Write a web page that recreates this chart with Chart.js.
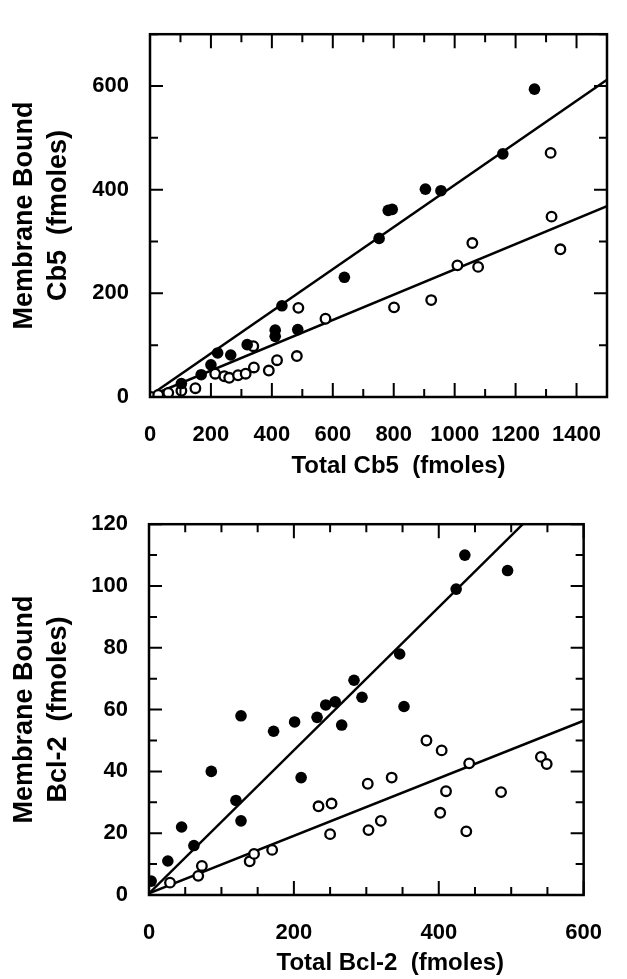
<!DOCTYPE html>
<html>
<head>
<meta charset="utf-8">
<script src="https://cdn.jsdelivr.net/npm/chart.js@4.4.1/dist/chart.umd.min.js"></script>
<style>
  html, body { margin: 0; padding: 0; background: #fff; }
  #wrap { position: relative; width: 627px; height: 979px; }
  canvas { position: absolute; left: 0; }
</style>
</head>
<body>
<div id="wrap">
  <canvas id="chartCb5" width="627" height="490" style="top:0"></canvas>
  <canvas id="chartBcl2" width="627" height="489" style="top:490px"></canvas>
</div>
<script>
// Cb5 panel (fmoles)
const cb5FilledX = [103, 168, 200, 222, 265, 319, 411, 411, 433, 485, 638, 752, 782, 795, 904, 955, 1158, 1262];
const cb5FilledY = [26, 43, 62, 85, 81, 101, 129, 117, 176, 130, 231, 306, 360, 362, 401, 398, 469, 594];
const cb5OpenX = [3, 27, 60, 103, 149, 214, 244, 260, 289, 314, 341, 339, 390, 417, 482, 487, 576, 801, 923, 1009, 1058, 1077, 1315, 1318, 1347];
const cb5OpenY = [0, 4, 8, 12, 17, 45, 40, 37, 42, 45, 57, 98, 51, 71, 79, 172, 151, 173, 187, 254, 297, 251, 471, 348, 285];
const cb5FilledFitX = [0, 1500];
const cb5FilledFitY = [3, 612];
const cb5OpenFitX = [0, 1500];
const cb5OpenFitY = [2, 368];
const cb5XTicks = [0, 200, 400, 600, 800, 1000, 1200, 1400];
const cb5YTicks = [0, 200, 400, 600];

// Bcl-2 panel (fmoles)
const bclFilledX = [3, 26, 45, 62, 86, 120, 127, 127, 172, 201, 210, 232, 244, 257, 266, 283, 294, 346, 352, 424, 436, 495];
const bclFilledY = [4.5, 11, 22, 16, 40, 30.6, 24, 58, 53, 56, 38, 57.5, 61.5, 62.5, 55, 69.5, 64, 78, 61, 99, 110, 105];
const bclOpenX = [29, 68, 73, 139, 145, 170, 234, 250, 252, 302, 303, 320, 335, 383, 402, 404, 410, 438, 442, 486, 541, 549];
const bclOpenY = [4, 6.2, 9.4, 10.9, 13.3, 14.6, 28.7, 19.7, 29.6, 36, 21, 24, 38, 50, 26.6, 46.8, 33.6, 20.6, 42.6, 33.3, 44.7, 42.4];
const bclFilledFitX = [0, 516];
const bclFilledFitY = [0.5, 120];
const bclOpenFitX = [0, 600];
const bclOpenFitY = [0.5, 56.4];
const bclXTicks = [0, 200, 400, 600];
const bclYTicks = [0, 20, 40, 60, 80, 100, 120];

const ink = '#000';
const fontFamily = '"Liberation Sans", Arial, sans-serif';

function pts(xs, ys) {
  return xs.map((x, i) => ({ x: x, y: ys[i] }));
}

// box round the plot, inward ticks on all four sides, x title a bit right of centre
const framePlugin = {
  id: 'frame',
  afterDatasetsDraw(chart, args, o) {
    const { ctx, chartArea: a } = chart;
    const x = chart.scales.x, y = chart.scales.y;
    ctx.save();
    ctx.strokeStyle = ink;
    ctx.lineWidth = 2.5;
    ctx.strokeRect(a.left, a.top, a.right - a.left, a.bottom - a.top);
    ctx.lineWidth = 2;
    ctx.beginPath();
    for (let v = x.min; v <= x.max + 1e-9; v += o.xStep) {
      const p = x.getPixelForValue(v);
      const len = (v % o.xMajor === 0) ? 14 : 8;
      ctx.moveTo(p, a.bottom); ctx.lineTo(p, a.bottom - len);
      ctx.moveTo(p, a.top); ctx.lineTo(p, a.top + len);
    }
    for (let v = y.min; v <= y.max + 1e-9; v += o.yStep) {
      const p = y.getPixelForValue(v);
      const len = (v % o.yMajor === 0) ? 13 : 8;
      ctx.moveTo(a.left, p); ctx.lineTo(a.left + len, p);
      ctx.moveTo(a.right, p); ctx.lineTo(a.right - len, p);
    }
    ctx.stroke();

    ctx.fillStyle = ink;
    ctx.font = 'bold 24px ' + fontFamily;
    ctx.textAlign = 'center';
    ctx.textBaseline = 'middle';
    ctx.fillText(o.xTitle, (a.left + a.right) / 2 + o.xTitleShift, a.bottom + o.xTitleDrop);
    ctx.restore();
  }
};

function makeChart(id, cfg) {
  return new Chart(document.getElementById(id), {
    type: 'scatter',
    data: {
      datasets: [
        { data: pts(cfg.filledX, cfg.filledY), pointRadius: 5.8, pointBackgroundColor: ink, pointBorderColor: ink, pointBorderWidth: 0 },
        { data: pts(cfg.openX, cfg.openY), pointRadius: 4.8, pointBackgroundColor: '#fff', pointBorderColor: ink, pointBorderWidth: 2.3 },
        { type: 'line', data: pts(cfg.fitFilledX, cfg.fitFilledY), borderColor: ink, borderWidth: 2.5, pointRadius: 0 },
        { type: 'line', data: pts(cfg.fitOpenX, cfg.fitOpenY), borderColor: ink, borderWidth: 2.5, pointRadius: 0 }
      ]
    },
    options: {
      responsive: false,
      animation: false,
      layout: { padding: cfg.padding },
      plugins: {
        legend: { display: false },
        tooltip: { enabled: false },
        frame: cfg.frame
      },
      scales: {
        x: {
          type: 'linear', min: 0, max: cfg.xMax,
          grid: { display: false, drawTicks: false },
          border: { display: false },
          afterBuildTicks: s => { s.ticks = cfg.xTicks.map(v => ({ value: v })); },
          afterFit: s => { s.height = cfg.xHeight; },
          ticks: { autoSkip: false, maxRotation: 0, padding: 25, color: ink, callback: v => String(v), font: { family: fontFamily, size: 22, weight: 'bold' } },
          title: { display: false }
        },
        y: {
          type: 'linear', min: 0, max: cfg.yMax,
          grid: { display: false, drawTicks: false },
          border: { display: false },
          afterBuildTicks: s => { s.ticks = cfg.yTicks.map(v => ({ value: v })); },
          afterFit: s => { s.width = cfg.yWidth; },
          ticks: { autoSkip: false, padding: 21, color: ink, callback: v => String(v), font: { family: fontFamily, size: 22, weight: 'bold' } },
          title: { display: true, text: cfg.yTitle, color: ink, padding: { top: 7, bottom: 0 }, font: { family: fontFamily, size: 27, weight: 'bold', lineHeight: 1.27 } }
        }
      }
    },
    plugins: [framePlugin]
  });
}

makeChart('chartCb5', {
  filledX: cb5FilledX, filledY: cb5FilledY,
  openX: cb5OpenX, openY: cb5OpenY,
  fitFilledX: cb5FilledFitX, fitFilledY: cb5FilledFitY,
  fitOpenX: cb5OpenFitX, fitOpenY: cb5OpenFitY,
  xMax: 1500, yMax: 700,
  xTicks: cb5XTicks, yTicks: cb5YTicks,
  yTitle: ['Membrane Bound', 'Cb5  (fmoles)'],
  padding: { top: 15, right: 15, bottom: 0, left: 0 },
  xHeight: 93, yWidth: 150,
  frame: { xStep: 100, xMajor: 200, yStep: 100, yMajor: 200, xTitle: 'Total Cb5  (fmoles)', xTitleShift: 20, xTitleDrop: 69 }
});

makeChart('chartBcl2', {
  filledX: bclFilledX, filledY: bclFilledY,
  openX: bclOpenX, openY: bclOpenY,
  fitFilledX: bclFilledFitX, fitFilledY: bclFilledFitY,
  fitOpenX: bclOpenFitX, fitOpenY: bclOpenFitY,
  xMax: 600, yMax: 120,
  xTicks: bclXTicks, yTicks: bclYTicks,
  yTitle: ['Membrane Bound', 'Bcl-2  (fmoles)'],
  padding: { top: 21, right: 18, bottom: 0, left: 0 },
  xHeight: 84, yWidth: 149,
  frame: { xStep: 50, xMajor: 200, yStep: 10, yMajor: 20, xTitle: 'Total Bcl-2  (fmoles)', xTitleShift: 24, xTitleDrop: 68 }
});
</script>
</body>
</html>
